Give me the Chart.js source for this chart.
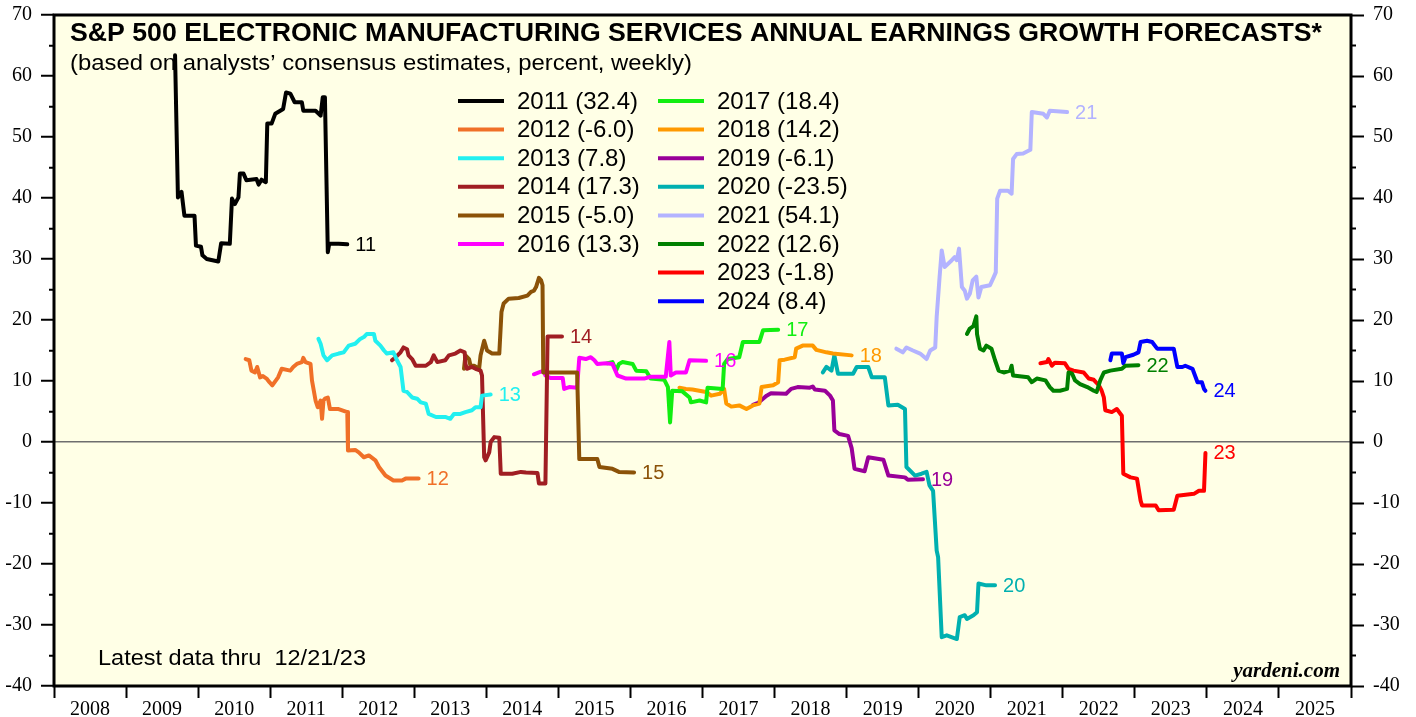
<!DOCTYPE html>
<html>
<head>
<meta charset="utf-8">
<script src="https://cdn.jsdelivr.net/npm/chart.js@4.4.1/dist/chart.umd.min.js"></script>
<style>
  html, body { margin: 0; padding: 0; background: #fff; }
  #wrap { width: 1416px; height: 717px; }
</style>
</head>
<body>
<div id="wrap"><canvas id="chart" width="1416" height="717"></canvas></div>
<script>
// weekly consensus forecasts, [decimal year, percent]
const s2011 = [[2009.68,63.4],[2009.72,40.1],[2009.77,41.0],[2009.81,37.1],[2009.95,37.1],[2009.97,32.2],[2010.04,32.0],[2010.06,30.6],[2010.12,30.0],[2010.28,29.6],[2010.32,32.6],[2010.44,32.5],[2010.47,39.9],[2010.51,39.0],[2010.56,40.1],[2010.58,44.0],[2010.63,44.0],[2010.67,42.9],[2010.81,43.1],[2010.84,42.2],[2010.88,43.0],[2010.94,42.6],[2010.96,52.2],[2011.02,52.2],[2011.07,53.8],[2011.14,54.3],[2011.18,54.6],[2011.22,57.3],[2011.28,57.1],[2011.34,55.7],[2011.44,55.7],[2011.46,54.3],[2011.63,54.3],[2011.70,53.5],[2011.73,56.5],[2011.76,56.5],[2011.80,31.1],[2011.82,32.5],[2011.95,32.5],[2012.07,32.4]];
const s2012 = [[2010.66,13.6],[2010.71,13.4],[2010.74,11.7],[2010.79,11.4],[2010.82,12.3],[2010.86,10.6],[2010.90,10.8],[2010.95,10.4],[2010.99,9.8],[2011.03,9.3],[2011.08,10.1],[2011.11,10.6],[2011.16,12.0],[2011.28,11.7],[2011.32,12.3],[2011.37,12.8],[2011.44,13.1],[2011.46,13.8],[2011.49,13.1],[2011.56,12.8],[2011.58,10.1],[2011.63,6.8],[2011.66,5.7],[2011.70,6.8],[2011.72,3.8],[2011.74,6.8],[2011.76,7.1],[2011.80,7.3],[2011.83,5.4],[2011.95,5.4],[2012.07,4.9],[2012.08,-1.4],[2012.18,-1.3],[2012.23,-1.7],[2012.30,-2.5],[2012.37,-2.2],[2012.46,-3.0],[2012.51,-4.1],[2012.60,-5.5],[2012.71,-6.3],[2012.83,-6.3],[2012.88,-6.0],[2013.06,-6.0]];
const s2013 = [[2011.67,16.9],[2011.70,16.1],[2011.74,14.2],[2011.79,13.4],[2011.86,14.2],[2011.95,14.5],[2012.02,14.7],[2012.09,15.8],[2012.18,16.1],[2012.25,16.9],[2012.30,17.2],[2012.34,17.7],[2012.44,17.7],[2012.46,16.6],[2012.53,15.8],[2012.58,15.0],[2012.62,14.5],[2012.71,14.7],[2012.76,13.4],[2012.81,12.3],[2012.85,8.4],[2012.90,8.2],[2012.97,7.3],[2013.04,7.1],[2013.09,6.5],[2013.16,6.3],[2013.20,4.6],[2013.30,4.1],[2013.43,4.1],[2013.50,3.8],[2013.55,4.6],[2013.64,4.6],[2013.71,4.9],[2013.80,5.2],[2013.85,5.7],[2013.92,5.7],[2013.94,7.6],[2014.06,7.8]];
const s2014 = [[2012.69,13.4],[2012.74,13.9],[2012.81,14.7],[2012.85,15.5],[2012.90,15.2],[2012.92,14.2],[2012.97,13.6],[2013.02,12.5],[2013.16,12.5],[2013.23,13.1],[2013.27,14.2],[2013.32,13.1],[2013.43,13.4],[2013.48,14.2],[2013.57,14.5],[2013.64,15.0],[2013.70,14.7],[2013.71,12.8],[2013.73,12.0],[2013.80,12.3],[2013.85,12.0],[2013.92,11.7],[2013.94,10.9],[2013.97,-2.5],[2013.99,-3.0],[2014.04,-1.7],[2014.06,0.0],[2014.11,0.8],[2014.18,0.7],[2014.20,-5.2],[2014.36,-5.2],[2014.48,-4.9],[2014.55,-5.0],[2014.71,-5.1],[2014.73,-6.8],[2014.82,-6.8],[2014.85,17.3],[2015.05,17.3]];
const s2015 = [[2013.69,12.0],[2013.71,14.2],[2013.76,13.6],[2013.78,12.5],[2013.83,12.5],[2013.90,12.0],[2013.92,14.2],[2013.97,16.6],[2014.01,15.0],[2014.08,14.5],[2014.18,14.5],[2014.21,21.3],[2014.24,22.7],[2014.31,23.5],[2014.45,23.6],[2014.57,24.0],[2014.62,24.6],[2014.66,24.8],[2014.69,25.4],[2014.73,26.9],[2014.76,26.5],[2014.78,25.7],[2014.79,11.4],[2015.26,11.4],[2015.29,-2.8],[2015.54,-2.8],[2015.57,-4.1],[2015.75,-4.4],[2015.84,-4.9],[2016.05,-5.0]];
const s2016 = [[2014.66,11.1],[2014.73,11.4],[2014.80,11.7],[2014.82,10.9],[2014.89,10.5],[2015.06,10.5],[2015.08,8.7],[2015.15,9.0],[2015.26,8.9],[2015.29,13.8],[2015.38,13.6],[2015.45,13.9],[2015.50,13.4],[2015.54,12.8],[2015.66,12.9],[2015.75,12.8],[2015.82,10.9],[2015.94,10.4],[2016.19,10.4],[2016.28,10.7],[2016.49,10.7],[2016.54,16.4],[2016.56,10.9],[2016.63,11.4],[2016.77,11.4],[2016.82,13.4],[2017.05,13.3]];
const s2017 = [[2015.68,12.9],[2015.75,13.1],[2015.80,11.7],[2015.84,12.8],[2015.89,13.1],[2016.03,12.8],[2016.08,11.7],[2016.22,11.6],[2016.28,10.4],[2016.47,10.2],[2016.52,9.0],[2016.55,3.2],[2016.58,8.4],[2016.72,8.3],[2016.82,7.3],[2016.84,6.5],[2016.96,6.8],[2017.05,6.5],[2017.07,8.9],[2017.28,8.7],[2017.30,12.8],[2017.35,13.6],[2017.51,13.9],[2017.56,16.4],[2017.79,16.4],[2017.84,18.3],[2018.05,18.4]];
const s2018 = [[2016.68,8.9],[2016.77,8.7],[2016.86,8.6],[2017.05,8.2],[2017.12,7.6],[2017.24,7.9],[2017.30,8.7],[2017.33,6.3],[2017.40,5.8],[2017.51,6.0],[2017.61,5.4],[2017.70,6.0],[2017.79,6.3],[2017.82,9.0],[2017.98,9.3],[2018.05,9.8],[2018.07,13.4],[2018.14,13.5],[2018.28,13.9],[2018.30,15.3],[2018.39,15.8],[2018.53,15.8],[2018.58,15.1],[2018.72,14.7],[2018.81,14.5],[2019.07,14.2]];
const s2019 = [[2017.70,6.1],[2017.77,6.4],[2017.84,7.1],[2017.89,7.6],[2017.95,8.0],[2018.16,7.9],[2018.23,8.7],[2018.32,9.0],[2018.49,8.9],[2018.53,9.1],[2018.56,8.6],[2018.70,8.4],[2018.77,7.6],[2018.81,6.8],[2018.83,1.9],[2018.90,1.3],[2019.02,1.0],[2019.07,-1.0],[2019.11,-4.4],[2019.25,-4.8],[2019.30,-2.5],[2019.51,-2.9],[2019.58,-5.5],[2019.81,-5.8],[2019.85,-6.2],[2020.06,-6.1]];
const s2020 = [[2018.67,11.4],[2018.72,12.3],[2018.79,11.7],[2018.83,14.2],[2018.88,11.2],[2019.09,11.2],[2019.14,12.3],[2019.30,12.3],[2019.35,10.6],[2019.53,10.6],[2019.58,6.0],[2019.71,6.1],[2019.81,5.4],[2019.83,-4.1],[2019.95,-5.5],[2020.04,-5.2],[2020.11,-4.9],[2020.15,-7.1],[2020.20,-8.0],[2020.25,-17.8],[2020.27,-18.9],[2020.32,-32.0],[2020.39,-31.7],[2020.53,-32.3],[2020.57,-28.7],[2020.64,-28.4],[2020.67,-29.0],[2020.76,-28.4],[2020.81,-27.9],[2020.83,-23.2],[2020.94,-23.5],[2021.06,-23.5]];
const s2021 = [[2019.69,15.3],[2019.78,14.7],[2019.83,15.5],[2019.92,15.0],[2020.02,14.5],[2020.11,13.6],[2020.16,15.0],[2020.23,15.5],[2020.25,20.5],[2020.29,27.0],[2020.32,31.4],[2020.36,28.7],[2020.46,29.8],[2020.50,30.3],[2020.53,29.8],[2020.56,31.7],[2020.60,25.4],[2020.64,24.8],[2020.67,23.5],[2020.71,24.3],[2020.75,26.5],[2020.80,27.1],[2020.83,23.7],[2020.87,25.4],[2020.99,25.7],[2021.04,27.0],[2021.07,27.8],[2021.09,39.9],[2021.13,41.2],[2021.24,41.2],[2021.29,40.7],[2021.31,46.4],[2021.36,47.2],[2021.45,47.3],[2021.55,47.9],[2021.57,54.1],[2021.73,53.8],[2021.78,53.2],[2021.82,54.3],[2022.06,54.1]];
const s2022 = [[2020.67,17.7],[2020.71,18.6],[2020.76,19.0],[2020.80,20.6],[2020.81,17.7],[2020.85,15.3],[2020.90,15.0],[2020.94,15.8],[2021.01,15.3],[2021.06,13.4],[2021.11,11.7],[2021.18,11.4],[2021.27,11.7],[2021.29,12.5],[2021.31,10.9],[2021.52,10.6],[2021.57,9.8],[2021.64,10.4],[2021.76,10.1],[2021.82,9.0],[2021.87,8.4],[2021.96,8.4],[2022.06,8.7],[2022.08,11.4],[2022.13,11.2],[2022.17,10.1],[2022.24,9.5],[2022.34,9.0],[2022.43,8.4],[2022.47,8.2],[2022.52,10.1],[2022.57,11.4],[2022.66,11.7],[2022.82,12.0],[2022.87,12.5],[2023.05,12.6]];
const s2023 = [[2021.69,12.9],[2021.78,13.1],[2021.80,13.6],[2021.85,12.5],[2021.89,13.0],[2022.03,12.9],[2022.08,12.0],[2022.15,11.7],[2022.29,11.4],[2022.36,10.4],[2022.43,10.2],[2022.50,9.3],[2022.54,8.4],[2022.57,7.3],[2022.59,5.2],[2022.68,4.9],[2022.75,5.4],[2022.82,4.3],[2022.84,-5.2],[2022.94,-5.8],[2023.03,-6.0],[2023.08,-9.6],[2023.10,-10.4],[2023.29,-10.4],[2023.33,-11.2],[2023.54,-11.1],[2023.59,-8.8],[2023.82,-8.5],[2023.89,-8.0],[2023.96,-8.0],[2023.98,-1.8]];
const s2024 = [[2022.66,13.4],[2022.68,14.5],[2022.82,14.5],[2022.84,12.9],[2022.87,13.9],[2022.98,14.3],[2023.05,14.7],[2023.08,16.4],[2023.17,16.6],[2023.24,16.4],[2023.31,15.3],[2023.54,15.3],[2023.59,12.3],[2023.66,12.3],[2023.70,12.5],[2023.80,12.0],[2023.87,9.8],[2023.93,9.8],[2023.96,8.7],[2023.98,8.4]];

const series = [s2011, s2012, s2013, s2014, s2015, s2016, s2017, s2018, s2019, s2020, s2021, s2022, s2023, s2024];
const years = ['2011', '2012', '2013', '2014', '2015', '2016', '2017', '2018', '2019', '2020', '2021', '2022', '2023', '2024'];
const latest = [32.4, -6.0, 7.8, 17.3, -5.0, 13.3, 18.4, 14.2, -6.1, -23.5, 54.1, 12.6, -1.8, 8.4];
const colors = ['#000000', '#F07028', '#22F0F0', '#A01E23', '#8B5208', '#FF00FF', '#11EE11',
                '#FF9900', '#990099', '#00B0B0', '#B3B3FF', '#008000', '#FF0000', '#0000FF'];

const SANS = '"Liberation Sans", Arial, sans-serif';
const SERIF = '"Liberation Serif", "Times New Roman", serif';

function fitText(ctx, text, x, y, width) {
    const w = ctx.measureText(text).width;
    ctx.save();
    ctx.translate(x, y);
    ctx.scale(width / w, 1);
    ctx.fillText(text, 0, 0);
    ctx.restore();
}

const decor = {
    id: 'decor',
    beforeDraw(chart) {
        const { ctx, chartArea: a } = chart;
        ctx.save();
        ctx.fillStyle = '#FFFFE6';
        ctx.fillRect(a.left, a.top, a.right - a.left, a.bottom - a.top);
        ctx.restore();
    },
    beforeDatasetsDraw(chart) {
        const { ctx } = chart;
        ctx.save();
        ctx.fillStyle = '#000';
        ctx.textBaseline = 'middle';
        ctx.textAlign = 'left';
        ctx.font = 'bold 25px ' + SANS;
        fitText(ctx, 'S&P 500 ELECTRONIC MANUFACTURING SERVICES ANNUAL EARNINGS GROWTH FORECASTS*', 70, 34, 1252);
        ctx.font = '22px ' + SANS;
        fitText(ctx, '(based on analysts\u2019 consensus estimates, percent, weekly)', 70, 64, 622);
        fitText(ctx, 'Latest data thru  12/21/23', 98, 659, 268);
        ctx.font = 'italic bold 21px ' + SERIF;
        ctx.textAlign = 'right';
        ctx.fillText('yardeni.com', 1340, 672);

        // legend, two columns
        ctx.textAlign = 'left';
        ctx.font = '24px ' + SANS;
        years.forEach((y, i) => {
            const col = i < 6 ? 0 : 1;
            const row = col === 0 ? i : i - 6;
            const lx = col === 0 ? 458 : 658;
            const ty = 101 + row * 28.6;
            ctx.strokeStyle = colors[i];
            ctx.lineWidth = 4;
            ctx.beginPath();
            ctx.moveTo(lx, ty);
            ctx.lineTo(lx + 46, ty);
            ctx.stroke();
            ctx.fillStyle = '#000';
            ctx.fillText(`${y} (${latest[i].toFixed(1)})`, lx + 59, ty + 1);
        });
        ctx.restore();
    },
    afterDatasetsDraw(chart) {
        const { ctx } = chart;
        ctx.save();
        ctx.font = '20px ' + SANS;
        ctx.textBaseline = 'middle';
        ctx.textAlign = 'left';
        chart.data.datasets.forEach((ds, i) => {
            const pts = chart.getDatasetMeta(i).data;
            const p = pts[pts.length - 1];
            ctx.fillStyle = colors[i];
            ctx.fillText(years[i].slice(2), p.x + 8, p.y + 1);
        });
        ctx.restore();
    },
    afterDraw(chart) {
        const { ctx, chartArea: a } = chart;
        ctx.save();
        ctx.strokeStyle = '#000';
        ctx.lineWidth = 3;
        ctx.strokeRect(a.left, a.top, a.right - a.left, a.bottom - a.top);
        ctx.restore();
    }
};

const yTicks = {
    min: -40,
    max: 70,
    ticks: {
        stepSize: 5,
        autoSkip: false,
        padding: 9,
        color: '#000',
        font: { family: SERIF, size: 20 },
        callback: v => (v % 10 === 0 ? String(v) : '')
    }
};

new Chart(document.getElementById('chart'), {
    type: 'line',
    data: {
        datasets: series.map((s, i) => ({
            label: years[i],
            data: s.map(p => ({ x: p[0], y: p[1] })),
            borderColor: colors[i],
            borderWidth: 4,
            pointRadius: 0,
            tension: 0,
            borderJoinStyle: 'round',
            borderCapStyle: 'round',
            yAxisID: 'y'
        }))
    },
    options: {
        responsive: false,
        animation: false,
        events: [],
        layout: { padding: { top: 15, left: 0, right: 0, bottom: 0 } },
        plugins: {
            legend: { display: false },
            tooltip: { enabled: false }
        },
        scales: {
            x: {
                type: 'linear',
                min: 2008,
                max: 2026,
                afterFit: s => { s.height = 31; s.paddingLeft = 0; s.paddingRight = 0; },
                border: { display: false },
                grid: {
                    drawOnChartArea: false,
                    tickLength: 12,
                    tickWidth: 2,
                    tickColor: c => (c.tick && c.tick.value % 1 === 0 ? '#000' : 'rgba(0,0,0,0)')
                },
                ticks: {
                    stepSize: 0.5,
                    autoSkip: false,
                    maxRotation: 0,
                    padding: 0,
                    color: '#000',
                    font: { family: SERIF, size: 20 },
                    callback: v => (Math.abs((v % 1) - 0.5) < 1e-6 ? String(Math.floor(v)) : '')
                }
            },
            y: {
                ...yTicks,
                position: 'left',
                afterFit: s => { s.width = 54; s.paddingTop = 0; s.paddingBottom = 0; },
                border: { display: false },
                grid: {
                    drawOnChartArea: true,
                    color: c => (c.tick && c.tick.value === 0 ? '#6E6E6E' : 'rgba(0,0,0,0)'),
                    lineWidth: 1.5,
                    tickLength: 13,
                    tickWidth: 2,
                    tickColor: '#000',
                    tickBorderDash: c => (c.tick && c.tick.value % 10 !== 0 ? [0, 8, 5, 100] : [])
                }
            },
            y2: {
                ...yTicks,
                position: 'right',
                afterFit: s => { s.width = 65; s.paddingTop = 0; s.paddingBottom = 0; },
                border: { display: false },
                grid: {
                    drawOnChartArea: false,
                    tickLength: 13,
                    tickWidth: 2,
                    tickColor: '#000',
                    tickBorderDash: c => (c.tick && c.tick.value % 10 !== 0 ? [5, 100] : [])
                }
            }
        }
    },
    plugins: [decor]
});
</script>
</body>
</html>
